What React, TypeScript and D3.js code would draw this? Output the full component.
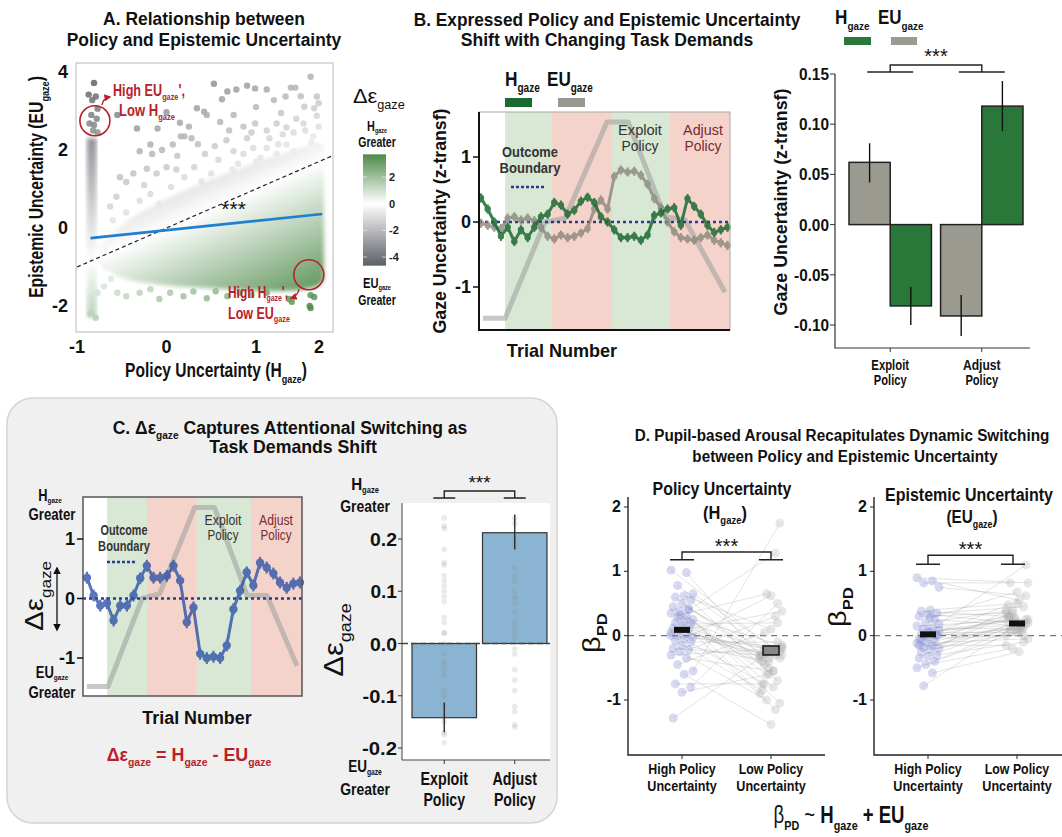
import React, { useEffect, useRef } from 'react';
import * as d3 from 'd3';

const NARROW = "'Liberation Sans', Arial, Helvetica, sans-serif";
const SANS = "'Liberation Sans', Arial, Helvetica, sans-serif";
const RED = '#b8212b';

// ---------- Panel A: scatter of H_gaze vs EU_gaze
const aTicksX = [-1, 0, 1, 2];
const aTicksY = [-2, 0, 2, 4];
const aUpperPts = [
  [0.53, 3.7], [0.68, 3.5], [0.78, 3.55], [0.9, 3.65], [0.99, 3.58], [1.12, 3.55], [1.39, 3.6], [1.44, 3.6], [1.61, 3.88],
  [1.2, 3.28], [1.33, 3.37], [1.5, 3.38], [1.68, 3.37], [1.54, 3.11], [1.65, 3.07], [1.68, 2.88], [0.34, 3.07], [0.42, 2.98],
  [0.45, 2.9], [0.6, 2.72], [0.75, 2.9], [0.86, 2.6], [0.99, 2.68], [1.12, 2.5], [1.23, 2.68], [1.34, 2.58], [1.42, 2.45],
  [1.53, 2.68], [1.64, 2.35], [0.0, 2.97], [-0.33, 2.55], [-0.55, 2.9], [-0.3, 1.97], [-0.18, 2.14], [-0.16, 1.9], [-0.05, 2.0],
  [0.07, 2.14], [0.16, 2.35], [0.2, 2.35], [0.28, 2.3], [0.35, 2.15], [0.43, 1.9], [0.54, 2.1], [0.67, 2.25], [0.75, 1.97],
  [0.86, 1.9], [0.97, 2.05], [1.05, 1.8], [1.12, 2.05], [1.23, 1.9], [1.34, 2.14], [1.42, 1.97], [1.5, 1.8], [1.61, 1.97],
  [1.68, 2.1], [-0.52, 1.3], [-0.45, 1.18], [-0.56, 0.8], [-0.37, 1.4], [-0.22, 1.52], [-0.11, 1.4], [0.0, 1.56], [0.11, 1.5],
  [0.2, 1.3], [0.31, 1.56], [0.39, 1.2], [0.5, 1.4], [0.61, 1.2], [0.74, 1.5], [-0.63, 0.55], [-0.6, 0.2], [-0.45, 0.4],
  [-0.3, 0.7], [-0.18, 0.87], [-0.08, 0.62], [-0.37, 0.05], [-0.22, 0.2], [0.25, 2.6], [0.62, 3.3], [1.0, 3.1], [1.28, 2.95],
  [1.7, 3.2], [0.9, 2.3], [1.15, 2.3], [0.58, 1.75], [0.8, 1.65], [1.0, 1.7], [0.12, 1.85], [-0.25, 1.1], [0.05, 1.05], [0.3, 0.95],
  [1.3, 2.4], [1.55, 2.5], [1.7, 2.6], [1.45, 2.8], [0.95, 2.45], [0.7, 2.5], [0.15, 2.7], [-0.1, 2.55], [1.62, 2.2], [1.25, 2.15],
];
const aColumnPts = [
  [-0.81, 3.72], [-0.87, 3.42], [-0.79, 3.37], [-0.83, 3.28], [-0.77, 3.06], [-0.84, 2.9], [-0.78, 2.8], [-0.86, 2.68],
  [-0.81, 2.64], [-0.82, 2.5], [-0.77, 2.45], [-0.79, -2.3], [-0.85, -2.2],
];
const aLowerPts = [
  [-0.7, -1.5], [-0.55, -1.66], [-0.45, -1.75], [-0.3, -1.66], [-0.18, -1.57], [-0.08, -1.82], [0.04, -1.66], [0.19, -1.75],
  [0.3, -1.63], [0.45, -1.8], [0.68, -1.75], [0.82, -1.66], [1.12, -1.66], [1.4, -1.89], [1.61, -1.72], [1.61, -2.05],
  [-0.77, -1.66], [1.37, -1.82], [1.65, -1.77], [1.6, -2.0], [0.95, -1.72], [0.55, -1.62], [-0.62, -1.3], [-0.68, -1.0],
];
const aColumnX = [-0.89, -0.78];
const aColumnY = [-2.3, 2.3];
const aCloudX = [-0.76, -0.6, -0.4, -0.2, 0, 0.3, 0.6, 0.9, 1.2, 1.5, 1.72, 1.76];
const aCloudLow = [-0.9, -1.2, -1.35, -1.42, -1.48, -1.52, -1.56, -1.6, -1.62, -1.6, -1.5, -1.3];
const aCloudHigh = [-0.5, -0.1, 0.25, 0.5, 0.75, 1.05, 1.35, 1.6, 1.85, 2.05, 2.2, 2.1];
const aRegX = [-0.85, 1.74];
const aRegY = [-0.26, 0.36];
const aIdentity = [-1, 1.86];
const aBarTicks = [2, 0, -2, -4];
const aBarDomain = [-4.65, 3.7];

// ---------- Panel B: time course of H_gaze / EU_gaze
const bPhaseEdges = [0, 10.4, 29.1, 53, 76.1, 100];
const bPhaseKinds = ['none', 'exploit', 'adjust', 'exploit', 'adjust'];
const bH = [0.37, 0.2, 0.0, -0.22, -0.08, -0.3, -0.12, -0.24, -0.08, 0.08, 0.12, 0.3, 0.26, 0.12, 0.18, 0.32, 0.38, 0.3, 0.08,
  0.0, -0.12, -0.24, -0.24, -0.22, -0.28, -0.2, 0.1, 0.14, 0.2, 0.22, -0.05, 0.36, 0.24, 0.12, -0.05, -0.16, -0.12, -0.08];
const bEU = [-0.02, -0.05, -0.08, -0.1, 0.06, 0.08, 0.03, 0.06, 0.02, -0.08, -0.22, -0.26, -0.2, -0.24, -0.22, -0.17, -0.1, 0.2,
  0.34, 0.2, 0.7, 0.8, 0.77, 0.78, 0.72, 0.58, 0.36, 0.22, 0.0, -0.15, -0.24, -0.26, -0.28, -0.24, -0.2, -0.28, -0.32, -0.36];
const bBoundT = [1.6, 10.4, 26.3, 34.3, 51, 59.4, 74.1, 82.1, 98];
const bBoundV = [-1.48, -1.48, 0, 0.06, 1.54, 1.54, 0.08, 0.03, -1.08];
const bTicks = [-1, 0, 1];

const bbCats = ['Exploit', 'Adjust'];
const bbSeries = ['EU', 'H'];
const bbEU = [0.062, -0.091];
const bbH = [-0.081, 0.118];
const bbEUerr = [[0.042, 0.081], [-0.111, -0.07]];
const bbHerr = [[-0.1, -0.062], [0.093, 0.143]];
const bbTicks = [-0.1, -0.05, 0, 0.05, 0.1, 0.15];

// ---------- Panel C: delta epsilon
const cPhaseEdges = [0, 11, 29.2, 52, 76.7, 100];
const cPhaseKinds = ['none', 'exploit', 'adjust', 'exploit', 'adjust'];
const cDelta = [0.35, 0.05, -0.12, -0.08, -0.37, -0.12, -0.12, 0.05, 0.34, 0.55, 0.35, 0.35, 0.38, 0.55, 0.3, -0.4, -0.15,
  -0.93, -1.0, -0.98, -1.0, -0.79, -0.18, 0.13, 0.44, 0.22, 0.6, 0.52, 0.42, 0.27, 0.18, 0.25, 0.27];
const cBoundT = [1.8, 11.4, 27, 35, 51, 60, 75, 84, 97.7];
const cBoundV = [-1.48, -1.48, 0, 0.08, 1.53, 1.53, 0.05, 0.05, -1.13];

const cbMeans = [-0.142, 0.212];
const cbErr = [[-0.17, -0.113], [0.18, 0.247]];
const cbTicks = [-0.2, -0.1, 0, 0.1, 0.2];
const cbExploitDots = [0.24, 0.225, 0.22, 0.18, 0.155, 0.15, 0.13, 0.12, 0.11, 0.1, 0.09, 0.08, 0.05, 0.04, 0.02, 0.02, 0.0,
  -0.02, -0.035, -0.04, -0.05, -0.06, -0.09, -0.1, -0.12, -0.14, -0.15, -0.17, -0.175, -0.19];
const cbAdjustDots = [0.24, 0.23, 0.2, 0.19, 0.145, 0.13, 0.12, 0.1, 0.09, 0.085, 0.075, 0.06, 0.04, 0.03, 0.02, 0.01, -0.01,
  -0.02, -0.05, -0.07, -0.09, -0.12, -0.13, -0.155, -0.16];

// ---------- Panel D: pupil betas, paired [high, low]
const dCats = ['High', 'Low'];
const dTicks = [-1, 0, 1, 2];
const dPolicyPairs = [[1.02, -0.3], [0.98, -0.55], [0.78, -0.2], [0.65, -0.25], [0.62, 0.1], [0.6, -0.4], [0.55, -0.7],
  [0.5, -0.35], [0.45, -0.9], [0.42, -0.3], [0.38, -0.6], [0.35, -0.15], [0.3, -0.8], [0.28, -0.45], [0.25, -1.05],
  [0.22, -0.25], [0.2, -0.3], [0.18, 0.2], [0.15, -0.5], [0.12, -0.32], [0.1, -1.15], [0.08, -0.28], [0.05, 0.38],
  [0.03, -0.22], [0.0, -0.75], [-0.02, -0.35], [-0.05, 0.62], [-0.08, -0.85], [-0.1, -0.1], [-0.15, -0.4], [-0.2, -0.3],
  [-0.22, 0.3], [-0.25, -1.0], [-0.3, -0.2], [-0.35, -0.55], [-0.45, 0.05], [-0.55, 1.75], [-0.6, -1.38], [-0.75, -0.75],
  [-0.8, 0.5], [-0.88, -0.6], [-1.28, -0.35], [0.4, 1.28], [0.32, 0.65], [0.0, -0.18]];
const dEpistemicPairs = [[0.9, 0.82], [0.85, 0.55], [0.82, 0.82], [0.75, 0.62], [0.4, 0.5], [0.38, 0.3], [0.35, 0.45],
  [0.33, 0.2], [0.3, 0.35], [0.25, 0.15], [0.2, 0.4], [0.15, 0.25], [0.12, 0.1], [0.1, 0.3], [0.08, 0.18], [0.05, 0.05],
  [0.03, 0.22], [0.0, 0.12], [-0.02, 0.28], [-0.05, 0.0], [-0.08, 0.15], [-0.1, 0.35], [-0.12, -0.05], [-0.15, 0.2],
  [-0.18, 0.1], [-0.2, 0.25], [-0.22, 0.05], [-0.25, 0.3], [-0.3, -0.1], [-0.32, 0.15], [-0.35, 0.4], [-0.4, 0.08],
  [-0.45, -0.2], [-0.5, 0.2], [-0.58, -0.25], [-0.78, 0.1], [0.18, 1.1], [0.28, 0.68], [-0.05, 0.48], [0.02, 0.0],
  [0.06, 0.25], [-0.15, -0.15]];
const dPolicyMeans = [0.09, -0.23];
const dEpistemicMeans = [0.02, 0.19];

type Part = [string, number?, string?];

// text with subscripts; o.w squeezes the string horizontally to the width seen in the figure
function rich(p: any, x: number, y: number, parts: Part[], size: number, o: any = {}) {
  const g = p.append('g').attr('transform', `translate(${x},${y})`);
  const t = g.append('text')
    .attr('x', 0).attr('y', 0)
    .attr('font-size', size)
    .attr('font-family', o.family || NARROW)
    .attr('font-weight', o.weight || 'bold')
    .attr('fill', o.fill || '#111')
    .attr('text-anchor', o.anchor || 'middle');
  const shift = size * (o.shift || 0.3);
  let low = false;
  parts.forEach(([s, sub, w]) => {
    const ts = t.append('tspan').text(s);
    if (w === 'r') ts.attr('font-weight', 'normal');
    if (w === 'b') ts.attr('font-weight', 'bold');
    if (sub) {
      ts.attr('font-size', size * (o.subSize || 0.58));
      if (!low) { ts.attr('dy', shift); low = true; }
    } else if (low) { ts.attr('dy', -shift); low = false; }
  });
  if (o.w) {
    const len = (t.node() as SVGTextElement).getBBox().width;
    if (len > 0) t.attr('transform', `scale(${o.w / len},1)`);
  }
  return t;
}

function vrich(p: any, x: number, y: number, parts: Part[], size: number, o: any = {}) {
  const g = p.append('g').attr('transform', `translate(${x},${y}) rotate(-90)`);
  return rich(g, 0, 0, parts, size, o);
}

function tick(p: any, x: number, y: number, label: string, size: number, anchor = 'end', w = 0) {
  return rich(p, x, y, [[label]], size, { anchor, w });
}

function phases(g: any, x: any, top: number, bottom: number, edges: number[], kinds: string[]) {
  kinds.forEach((k, i) => {
    if (k === 'none') return;
    g.append('rect')
      .attr('x', x(edges[i])).attr('width', x(edges[i + 1]) - x(edges[i]))
      .attr('y', top).attr('height', bottom - top)
      .attr('fill', k === 'exploit' ? '#d8e8d4' : '#f4d4ca');
  });
}

function boundary(g: any, x: any, y: any, ts: number[], vs: number[]) {
  g.append('path')
    .datum(vs)
    .attr('d', d3.line<number>().x((_, i) => x(ts[i])).y((d) => y(d)))
    .attr('fill', 'none')
    .attr('stroke', '#9a9a9a')
    .attr('stroke-opacity', 0.55)
    .attr('stroke-width', 5)
    .attr('stroke-linejoin', 'round');
}

function series(g: any, x: any, y: any, ts: number[], vals: number[], err: number, color: string, op: number, r: number) {
  const s = g.append('g').attr('opacity', op);
  s.append('path')
    .datum(vals)
    .attr('d', d3.line<number>().x((_, i) => x(ts[i])).y((d) => y(d)))
    .attr('fill', 'none').attr('stroke', color).attr('stroke-width', 3);
  vals.forEach((v, i) => {
    s.append('line').attr('x1', x(ts[i])).attr('x2', x(ts[i]))
      .attr('y1', y(v - err)).attr('y2', y(v + err))
      .attr('stroke', color).attr('stroke-width', 2.2);
    s.append('circle').attr('cx', x(ts[i])).attr('cy', y(v)).attr('r', r).attr('fill', color);
  });
}

function bracket(g: any, xa: number, xb: number, half: number, yBar: number, yTop: number, starY: number, size = 20) {
  const path = `M${xa - half},${yBar}H${xa + half}M${xa},${yBar}V${yTop}H${xb}V${yBar}M${xb - half},${yBar}H${xb + half}`;
  g.append('path').attr('d', path).attr('fill', 'none').attr('stroke', '#222').attr('stroke-width', 1.4);
  g.append('text').attr('x', (xa + xb) / 2).attr('y', starY).attr('text-anchor', 'middle')
    .attr('font-family', SANS).attr('font-size', size).attr('fill', '#111').text('***');
}

function App() {
  const ref = useRef<SVGSVGElement>(null);

  useEffect(() => {
    const svg = d3.select(ref.current);
    svg.selectAll('*').remove();
    const defs = svg.append('defs');

    // ================= A =================
    const A = svg.append('g');
    const xA = d3.scaleLinear().domain([-1, 1]).range([77, 256]);
    const yA = d3.scaleLinear().domain([-2, 4]).range([306, 72]);
    const dColor = d3.scaleLinear<string>().domain([aBarDomain[0], 0, aBarDomain[1]]).range(['#5c5f66', '#ffffff', '#4e8a49']);
    const fA = { l: 76, t: 63, r: 333, b: 332 };

    rich(A, 204, 25, [['A. Relationship between']], 17.5, { w: 202 });
    rich(A, 204, 46, [['Policy and Epistemic Uncertainty']], 17.5, { w: 275 });

    defs.append('clipPath').attr('id', 'clipA').append('rect')
      .attr('x', fA.l).attr('y', fA.t).attr('width', fA.r - fA.l).attr('height', fA.b - fA.t);
    defs.append('filter').attr('id', 'blurA').attr('x', '-10%').attr('y', '-10%').attr('width', '120%').attr('height', '120%')
      .append('feGaussianBlur').attr('stdDeviation', 2.2);

    // gradient that follows delta-epsilon = x - y in pixel space
    const sx = xA(1) - xA(0), sy = yA(0) - yA(1);
    const gx = 1 / sx, gy = 1 / sy, g2 = gx * gx + gy * gy;
    const P = (v: number) => [xA(0) + (v * gx) / g2, yA(0) + (v * gy) / g2];
    const gradA = defs.append('linearGradient').attr('id', 'gradA').attr('gradientUnits', 'userSpaceOnUse')
      .attr('x1', P(aBarDomain[0])[0]).attr('y1', P(aBarDomain[0])[1])
      .attr('x2', P(aBarDomain[1])[0]).attr('y2', P(aBarDomain[1])[1]);
    [aBarDomain[0], -2, 0, 2, aBarDomain[1]].forEach((v) => {
      gradA.append('stop').attr('offset', (v - aBarDomain[0]) / (aBarDomain[1] - aBarDomain[0])).attr('stop-color', dColor(v));
    });

    A.append('rect').attr('x', fA.l).attr('y', fA.t).attr('width', fA.r - fA.l).attr('height', fA.b - fA.t).attr('fill', '#fff');
    const Ac = A.append('g').attr('clip-path', 'url(#clipA)');
    const cloud = d3.area<number>()
      .x((_, i) => xA(aCloudX[i]))
      .y0((_, i) => yA(aCloudLow[i]))
      .y1((_, i) => yA(aCloudHigh[i]))
      .curve(d3.curveBasis);
    Ac.append('path').datum(aCloudX).attr('d', cloud).attr('fill', 'url(#gradA)').attr('filter', 'url(#blurA)');
    Ac.append('rect')
      .attr('x', xA(aColumnX[0])).attr('width', xA(aColumnX[1]) - xA(aColumnX[0]))
      .attr('y', yA(aColumnY[1])).attr('height', yA(aColumnY[0]) - yA(aColumnY[1]))
      .attr('fill', 'url(#gradA)').attr('filter', 'url(#blurA)');
    [...aUpperPts, ...aColumnPts, ...aLowerPts].forEach(([x, y]) => {
      Ac.append('circle').attr('cx', xA(x)).attr('cy', yA(y)).attr('r', 3.2)
        .attr('fill', dColor(x - y)).attr('opacity', 0.85);
    });
    Ac.append('line')
      .attr('x1', xA(aIdentity[0])).attr('y1', yA(aIdentity[0]))
      .attr('x2', xA(aIdentity[1])).attr('y2', yA(aIdentity[1]))
      .attr('stroke', '#222').attr('stroke-width', 1.2).attr('stroke-dasharray', '4,3');
    Ac.append('line')
      .attr('x1', xA(aRegX[0])).attr('y1', yA(aRegY[0]))
      .attr('x2', xA(aRegX[1])).attr('y2', yA(aRegY[1]))
      .attr('stroke', '#1f7fd0').attr('stroke-width', 2.6);
    A.append('text').attr('x', xA(0.75)).attr('y', yA(0.3)).attr('text-anchor', 'middle')
      .attr('font-family', SANS).attr('font-size', 21).attr('fill', '#111').text('***');
    A.append('rect').attr('x', fA.l).attr('y', fA.t).attr('width', fA.r - fA.l).attr('height', fA.b - fA.t)
      .attr('fill', 'none').attr('stroke', '#c4c4c4').attr('stroke-width', 1.2);

    // red annotations
    defs.append('marker').attr('id', 'arrR').attr('viewBox', '0 0 10 10').attr('refX', 8).attr('refY', 5)
      .attr('markerWidth', 5).attr('markerHeight', 5).attr('orient', 'auto-start-reverse')
      .append('path').attr('d', 'M0,0L10,5L0,10z').attr('fill', RED);
    A.append('circle').attr('cx', xA(-0.8)).attr('cy', yA(2.75)).attr('r', 15)
      .attr('fill', 'none').attr('stroke', RED).attr('stroke-width', 1.6);
    A.append('circle').attr('cx', xA(1.59)).attr('cy', yA(-1.2)).attr('r', 15)
      .attr('fill', 'none').attr('stroke', RED).attr('stroke-width', 1.6);
    A.append('path').attr('d', 'M102,105Q103,98 110,97').attr('fill', 'none').attr('stroke', RED)
      .attr('stroke-width', 1.4).attr('marker-end', 'url(#arrR)');
    A.append('path').attr('d', 'M299,289Q298,296 291,298').attr('fill', 'none').attr('stroke', RED)
      .attr('stroke-width', 1.4).attr('marker-end', 'url(#arrR)');
    rich(A, 113, 96, [['High EU'], ['gaze', 1], ["',"]], 16, { anchor: 'start', fill: RED, w: 72, shift: 0.22 });
    rich(A, 119, 116, [['Low H'], ['gaze', 1]], 16, { anchor: 'start', fill: RED, w: 56, shift: 0.22 });
    rich(A, 228, 298, [['High H'], ['gaze', 1], ["',"]], 16, { anchor: 'start', fill: RED, w: 60, shift: 0.2 });
    rich(A, 228, 319, [['Low EU'], ['gaze', 1]], 16, { anchor: 'start', fill: RED, w: 62, shift: 0.2 });

    aTicksX.forEach((v) => tick(A, Math.min(xA(v), fA.r - 14), fA.b + 21, String(v), 18, 'middle'));
    aTicksY.forEach((v) => tick(A, fA.l - 8, yA(v) + 6, String(v), 18));
    rich(A, 216, 377, [['Policy Uncertainty (H'], ['gaze', 1], [')']], 19.5, { w: 182 });
    vrich(A, 43, 187, [['Epistemic Uncertainty (EU'], ['gaze', 1], [')']], 19.5, { w: 222 });

    // colour bar
    const cbY = d3.scaleLinear().domain([-4, 2]).range([257, 177]);
    const gradBar = defs.append('linearGradient').attr('id', 'gradBar').attr('x1', 0).attr('y1', 0).attr('x2', 0).attr('y2', 1);
    [aBarDomain[1], 2, 0, -2, aBarDomain[0]].forEach((v) => {
      gradBar.append('stop').attr('offset', (aBarDomain[1] - v) / (aBarDomain[1] - aBarDomain[0])).attr('stop-color', dColor(v));
    });
    A.append('rect').attr('x', 363).attr('width', 23).attr('y', cbY(aBarDomain[1]))
      .attr('height', cbY(aBarDomain[0]) - cbY(aBarDomain[1])).attr('fill', 'url(#gradBar)');
    aBarTicks.forEach((v) => {
      A.append('line').attr('x1', 363).attr('x2', 367).attr('y1', cbY(v)).attr('y2', cbY(v)).attr('stroke', '#fff').attr('stroke-opacity', 0.6);
      A.append('line').attr('x1', 382).attr('x2', 386).attr('y1', cbY(v)).attr('y2', cbY(v)).attr('stroke', '#fff').attr('stroke-opacity', 0.6);
      rich(A, 389, cbY(v) + 4, [[String(v)]], 11, { anchor: 'start', fill: '#222' });
    });
    rich(A, 353, 103, [['Δε', 0, 'r'], ['gaze', 1, 'r']], 21, { anchor: 'start', weight: 'normal', family: SANS, w: 52 });
    rich(A, 377, 131, [['H'], ['gaze', 1]], 14, { w: 20, subSize: 0.5, shift: 0.15 });
    rich(A, 377, 147, [['Greater']], 14, { w: 38 });
    rich(A, 377, 288, [['EU'], ['gaze', 1]], 14, { w: 28, subSize: 0.5, shift: 0.15 });
    rich(A, 377, 305, [['Greater']], 14, { w: 38 });

    // ================= B (time course) =================
    const B = svg.append('g');
    rich(B, 607, 26, [['B. Expressed Policy and Epistemic Uncertainty']], 17.5, { w: 387 });
    rich(B, 607, 46, [['Shift with Changing Task Demands']], 17.5, { w: 293 });
    const xB = d3.scaleLinear().domain([0, 100]).range([479, 730]);
    const yB = d3.scaleLinear().domain([-1, 1]).range([287, 157]);
    const fB = { t: 112, b: 330 };
    const bTs = d3.range(bH.length).map((i) => 0.8 + i * 2.654);
    B.append('rect').attr('x', xB(0)).attr('y', fB.t).attr('width', xB(100) - xB(0)).attr('height', fB.b - fB.t).attr('fill', '#fff');
    phases(B, xB, fB.t, fB.b, bPhaseEdges, bPhaseKinds);
    boundary(B, xB, yB, bBoundT, bBoundV);
    B.append('line').attr('x1', xB(0)).attr('x2', xB(100)).attr('y1', yB(0)).attr('y2', yB(0))
      .attr('stroke', '#2b3a96').attr('stroke-width', 2.5).attr('stroke-dasharray', '3,3');
    series(B, xB, yB, bTs, bEU, 0.07, '#8a877c', 0.8, 3.2);
    series(B, xB, yB, bTs, bH, 0.07, '#1b6a30', 0.85, 3.2);
    B.append('rect').attr('x', xB(0)).attr('y', fB.t).attr('width', xB(100) - xB(0)).attr('height', fB.b - fB.t)
      .attr('fill', 'none').attr('stroke', '#aaa').attr('stroke-width', 1);
    B.append('path').attr('d', `M${xB(0)},${fB.t}V${fB.b}H${xB(100)}`).attr('fill', 'none').attr('stroke', '#111').attr('stroke-width', 2);
    bTicks.forEach((v) => {
      B.append('line').attr('x1', xB(0) - 6).attr('x2', xB(0)).attr('y1', yB(v)).attr('y2', yB(v)).attr('stroke', '#111').attr('stroke-width', 1.5);
      tick(B, xB(0) - 8, yB(v) + 6, String(v), 18);
    });
    rich(B, 530, 157, [['Outcome']], 14, { fill: '#333', w: 56 });
    rich(B, 530, 173, [['Boundary']], 14, { fill: '#333', w: 61 });
    B.append('line').attr('x1', 511).attr('x2', 545).attr('y1', 187).attr('y2', 187)
      .attr('stroke', '#2b3a96').attr('stroke-width', 2.5).attr('stroke-dasharray', '3,2');
    rich(B, 640, 135, [['Exploit']], 14, { fill: '#333', weight: 'normal', family: SANS, w: 44 });
    rich(B, 640, 151, [['Policy']], 14, { fill: '#333', weight: 'normal', family: SANS, w: 37 });
    rich(B, 703, 135, [['Adjust']], 14, { fill: '#7a2833', weight: 'normal', family: SANS, w: 40 });
    rich(B, 703, 151, [['Policy']], 14, { fill: '#7a2833', weight: 'normal', family: SANS, w: 37 });
    rich(B, 562, 357, [['Trial Number']], 19, { w: 111 });
    vrich(B, 446, 221, [['Gaze Uncertainty (z-transf)']], 18, { w: 225 });
    rich(B, 505, 86, [['H'], ['gaze', 1]], 21, { anchor: 'start', w: 35 });
    rich(B, 547, 86, [['EU'], ['gaze', 1]], 21, { anchor: 'start', w: 46 });
    B.append('rect').attr('x', 505).attr('y', 98).attr('width', 27).attr('height', 9).attr('fill', '#1b6a30');
    B.append('rect').attr('x', 558).attr('y', 98).attr('width', 27).attr('height', 9).attr('fill', '#989890');

    // ================= B (bars) =================
    const BB = svg.append('g');
    const yBb = d3.scaleLinear().domain([-0.1, 0.15]).range([325, 74]);
    const xBb = d3.scaleBand().domain(bbCats).range([849, 1023]).paddingInner(0.1).paddingOuter(0);
    const xBs = d3.scaleBand().domain(bbSeries).range([0, xBb.bandwidth()]);
    const bbVals: any = { EU: bbEU, H: bbH };
    const bbErrs: any = { EU: bbEUerr, H: bbHerr };
    const bbFill: any = { EU: '#9a9a91', H: '#2a773a' };
    bbCats.forEach((c, ci) => {
      bbSeries.forEach((s) => {
        const v = bbVals[s][ci];
        const x0 = (xBb(c) as number) + (xBs(s) as number);
        BB.append('rect').attr('x', x0).attr('width', xBs.bandwidth())
          .attr('y', yBb(Math.max(0, v))).attr('height', Math.abs(yBb(v) - yBb(0)))
          .attr('fill', bbFill[s]).attr('stroke', '#222').attr('stroke-width', 1.5);
        const [lo, hi] = bbErrs[s][ci];
        BB.append('line').attr('x1', x0 + xBs.bandwidth() / 2).attr('x2', x0 + xBs.bandwidth() / 2)
          .attr('y1', yBb(lo)).attr('y2', yBb(hi)).attr('stroke', '#111').attr('stroke-width', 1.4);
      });
    });
    BB.append('path').attr('d', `M835,74V348H1030`).attr('fill', 'none').attr('stroke', '#333').attr('stroke-width', 1.2);
    bbTicks.forEach((v) => {
      BB.append('line').attr('x1', 830).attr('x2', 835).attr('y1', yBb(v)).attr('y2', yBb(v)).attr('stroke', '#333');
      tick(BB, 829, yBb(v) + 6, v.toFixed(2), 17, 'end', v < 0 ? 35 : 30);
    });
    bbCats.forEach((c) => {
      const cx = (xBb(c) as number) + xBb.bandwidth() / 2;
      BB.append('line').attr('x1', cx).attr('x2', cx).attr('y1', 348).attr('y2', 352).attr('stroke', '#333');
      rich(BB, cx, 370, [[c]], 14, { w: 38 });
      rich(BB, cx, 385, [['Policy']], 14, { w: 33 });
    });
    const bxa = (xBb('Exploit') as number) + xBb.bandwidth() / 2;
    const bxb = (xBb('Adjust') as number) + xBb.bandwidth() / 2;
    bracket(BB, bxa, bxb, 23, yBb(0.152), yBb(0.159), 63);
    vrich(BB, 787, 202, [['Gaze Uncertainty (z-transf)']], 18, { w: 227 });
    rich(BB, 835, 24, [['H'], ['gaze', 1]], 20, { anchor: 'start', w: 35 });
    rich(BB, 878, 24, [['EU'], ['gaze', 1]], 20, { anchor: 'start', w: 46 });
    BB.append('rect').attr('x', 844).attr('y', 37).attr('width', 27).attr('height', 8).attr('fill', '#2a773a');
    BB.append('rect').attr('x', 891).attr('y', 37).attr('width', 26).attr('height', 8).attr('fill', '#9a9a91');

    // ================= C =================
    const C = svg.append('g');
    C.append('rect').attr('x', 7).attr('y', 398).attr('width', 550).attr('height', 425).attr('rx', 26)
      .attr('fill', '#f0f0f0').attr('stroke', '#d4d4d4').attr('stroke-width', 1.5);
    rich(C, 290, 434, [['C. Δε'], ['gaze', 1], [' Captures Attentional Switching as']], 17.5, { w: 355 });
    rich(C, 293, 453, [['Task Demands Shift']], 17.5, { w: 168 });

    const xC = d3.scaleLinear().domain([0, 100]).range([83, 302]);
    const yC = d3.scaleLinear().domain([-1, 1]).range([658, 539]);
    const fC = { t: 497, b: 696 };
    const cTs = d3.range(cDelta.length).map((i) => 1.8 + i * 3.04);
    C.append('rect').attr('x', xC(0)).attr('y', fC.t).attr('width', xC(100) - xC(0)).attr('height', fC.b - fC.t).attr('fill', '#fff');
    phases(C, xC, fC.t, fC.b, cPhaseEdges, cPhaseKinds);
    boundary(C, xC, yC, cBoundT, cBoundV);
    C.append('line').attr('x1', xC(0)).attr('x2', xC(100)).attr('y1', yC(0)).attr('y2', yC(0))
      .attr('stroke', '#2b3a96').attr('stroke-width', 2.5).attr('stroke-dasharray', '3,3');
    series(C, xC, yC, cTs, cDelta, 0.1, '#2c4fa6', 0.78, 4.2);
    C.append('rect').attr('x', xC(0)).attr('y', fC.t).attr('width', xC(100) - xC(0)).attr('height', fC.b - fC.t)
      .attr('fill', 'none').attr('stroke', '#555').attr('stroke-width', 1.5);
    bTicks.forEach((v) => {
      C.append('line').attr('x1', xC(0) - 6).attr('x2', xC(0)).attr('y1', yC(v)).attr('y2', yC(v)).attr('stroke', '#111').attr('stroke-width', 1.5);
      tick(C, xC(0) - 8, yC(v) + 6, String(v), 18);
    });
    rich(C, 124, 535, [['Outcome']], 14, { fill: '#333', w: 47 });
    rich(C, 124, 551, [['Boundary']], 14, { fill: '#333', w: 52 });
    C.append('line').attr('x1', 107).attr('x2', 135).attr('y1', 562).attr('y2', 562)
      .attr('stroke', '#2b3a96').attr('stroke-width', 2.5).attr('stroke-dasharray', '3,2');
    rich(C, 223, 525, [['Exploit']], 14, { fill: '#333', weight: 'normal', family: SANS, w: 37 });
    rich(C, 223, 540, [['Policy']], 14, { fill: '#333', weight: 'normal', family: SANS, w: 31 });
    rich(C, 276, 525, [['Adjust']], 14, { fill: '#7a2833', weight: 'normal', family: SANS, w: 34 });
    rich(C, 276, 540, [['Policy']], 14, { fill: '#7a2833', weight: 'normal', family: SANS, w: 31 });
    rich(C, 197, 724, [['Trial Number']], 19, { w: 110 });
    rich(C, 50, 501, [['H'], ['gaze', 1]], 16, { w: 24, subSize: 0.5, shift: 0.15 });
    rich(C, 52, 520, [['Greater']], 16, { w: 47 });
    rich(C, 52, 678, [['EU'], ['gaze', 1]], 16, { w: 33, subSize: 0.5, shift: 0.15 });
    rich(C, 52, 698, [['Greater']], 16, { w: 47 });
    vrich(C, 43, 596, [['Δε', 0, 'r'], ['gaze', 1, 'r']], 25, { weight: 'normal', family: SANS, w: 70 });
    defs.append('marker').attr('id', 'arrK').attr('viewBox', '0 0 10 10').attr('refX', 8).attr('refY', 5)
      .attr('markerWidth', 6).attr('markerHeight', 6).attr('orient', 'auto-start-reverse')
      .append('path').attr('d', 'M0,0L10,5L0,10z').attr('fill', '#111');
    C.append('line').attr('x1', 57).attr('x2', 57).attr('y1', 568).attr('y2', 630)
      .attr('stroke', '#111').attr('stroke-width', 1.3)
      .attr('marker-start', 'url(#arrK)').attr('marker-end', 'url(#arrK)');
    rich(C, 189, 761, [['Δε'], ['gaze', 1], [' = H'], ['gaze', 1], [' - EU'], ['gaze', 1]], 18, { fill: RED, w: 165 });

    // C bars
    const yCb = d3.scaleLinear().domain([-0.2, 0.2]).range([748, 539]);
    const xCb = d3.scaleBand().domain(bbCats).range([412, 547]).paddingInner(0.085).paddingOuter(0);
    C.append('rect').attr('x', 402).attr('y', 503).attr('width', 148).attr('height', 257).attr('fill', '#fff');
    const cDots = [cbExploitDots, cbAdjustDots];
    bbCats.forEach((c, ci) => {
      const x0 = xCb(c) as number;
      const cx = x0 + xCb.bandwidth() / 2;
      const v = cbMeans[ci];
      C.append('rect').attr('x', x0).attr('width', xCb.bandwidth())
        .attr('y', yCb(Math.max(0, v))).attr('height', Math.abs(yCb(v) - yCb(0)))
        .attr('fill', '#8ab4d1').attr('stroke', '#333').attr('stroke-width', 1.2);
      cDots[ci].forEach((d) => {
        C.append('circle').attr('cx', cx).attr('cy', yCb(d)).attr('r', 2.8).attr('fill', '#888').attr('opacity', 0.18);
      });
      C.append('line').attr('x1', cx).attr('x2', cx).attr('y1', yCb(cbErr[ci][0])).attr('y2', yCb(cbErr[ci][1]))
        .attr('stroke', '#222').attr('stroke-width', 1.3);
      C.append('line').attr('x1', cx).attr('x2', cx).attr('y1', 760).attr('y2', 764).attr('stroke', '#333');
      rich(C, cx, 785, [[c]], 19, { w: ci === 0 ? 48 : 45 });
      rich(C, cx, 806, [['Policy']], 19, { w: 42 });
    });
    C.append('line').attr('x1', 402).attr('x2', 550).attr('y1', yCb(0)).attr('y2', yCb(0))
      .attr('stroke', '#444').attr('stroke-width', 1.4).attr('stroke-dasharray', '6,3');
    C.append('path').attr('d', 'M402,503V760H550').attr('fill', 'none').attr('stroke', '#444').attr('stroke-width', 1);
    cbTicks.forEach((v) => {
      C.append('line').attr('x1', 398).attr('x2', 402).attr('y1', yCb(v)).attr('y2', yCb(v)).attr('stroke', '#333');
      tick(C, 397, yCb(v) + 7, v.toFixed(1), 19, 'end', v < 0 ? 35 : 27);
    });
    const cxa = (xCb('Exploit') as number) + xCb.bandwidth() / 2;
    const cxb = (xCb('Adjust') as number) + xCb.bandwidth() / 2;
    bracket(C, cxa, cxb, 11, 498, 491, 489, 19);
    rich(C, 365, 490, [['H'], ['gaze', 1]], 17, { w: 28, subSize: 0.5, shift: 0.2 });
    rich(C, 365, 512, [['Greater']], 17, { w: 50 });
    rich(C, 365, 772, [['EU'], ['gaze', 1]], 17, { w: 34, subSize: 0.5, shift: 0.15 });
    rich(C, 365, 795, [['Greater']], 17, { w: 50 });
    vrich(C, 343, 640, [['Δε', 0, 'r'], ['gaze', 1, 'r']], 27, { weight: 'normal', family: SANS, w: 74 });

    // ================= D =================
    const D = svg.append('g');
    rich(D, 842, 441, [['D. Pupil-based Arousal Recapitulates Dynamic Switching']], 17, { w: 415 });
    rich(D, 845, 462, [['between Policy and Epistemic Uncertainty']], 17, { w: 306 });
    const yD = d3.scaleLinear().domain([-1, 2]).range([700, 507]);
    const jit = (i: number) => (((i * 7) % 11) - 5) * 2.2;

    const drawD = (axisX: number, xEnd: number, cats: [number, number], pairs: number[][], means: number[], lowOutline: boolean) => {
      const xD = d3.scalePoint().domain(dCats).range(cats);
      const g = D.append('g');
      g.append('line').attr('x1', axisX).attr('x2', xEnd).attr('y1', yD(0)).attr('y2', yD(0))
        .attr('stroke', '#777').attr('stroke-width', 1.3).attr('stroke-dasharray', '6,5');
      pairs.forEach(([h, l], i) => {
        g.append('line').attr('x1', (xD('High') as number) + jit(i)).attr('y1', yD(h))
          .attr('x2', (xD('Low') as number) + jit(i + 3)).attr('y2', yD(l))
          .attr('stroke', '#8a8a8a').attr('stroke-opacity', 0.3).attr('stroke-width', 0.8);
      });
      pairs.forEach(([h, l], i) => {
        g.append('circle').attr('cx', (xD('High') as number) + jit(i)).attr('cy', yD(h)).attr('r', 4.5)
          .attr('fill', '#7880cc').attr('opacity', 0.3);
        g.append('circle').attr('cx', (xD('Low') as number) + jit(i + 3)).attr('cy', yD(l)).attr('r', 4.5)
          .attr('fill', '#a8a8a8').attr('opacity', 0.28);
      });
      dCats.forEach((c, ci) => {
        const outlined = lowOutline && ci === 1;
        g.append('rect').attr('x', (xD(c) as number) - 8).attr('width', 16)
          .attr('y', yD(means[ci]) - (outlined ? 4.5 : 3)).attr('height', outlined ? 9 : 6)
          .attr('fill', outlined ? '#888' : '#111').attr('stroke', '#111').attr('stroke-width', outlined ? 1.5 : 0);
        g.append('line').attr('x1', xD(c)).attr('x2', xD(c)).attr('y1', 755).attr('y2', 759).attr('stroke', '#222');
        rich(g, xD(c) as number, 774, [[c === 'High' ? 'High Policy' : 'Low Policy']], 15, { w: c === 'High' ? 68 : 65 });
        rich(g, xD(c) as number, 791, [['Uncertainty']], 15, { w: 70 });
      });
      g.append('path').attr('d', `M${axisX},497V755H${xEnd}`).attr('fill', 'none').attr('stroke', '#222').attr('stroke-width', 1.4);
      dTicks.forEach((v) => {
        g.append('line').attr('x1', axisX - 4).attr('x2', axisX).attr('y1', yD(v)).attr('y2', yD(v)).attr('stroke', '#222');
        tick(g, axisX - 7, yD(v) + 5, String(v), 16);
      });
      return xD;
    };
    const xDL = drawD(628, 825, [682, 771], dPolicyPairs, dPolicyMeans, true);
    bracket(D, xDL('High') as number, xDL('Low') as number, 12, yD(1.18), yD(1.3), 553);
    rich(D, 722, 495, [['Policy Uncertainty']], 18, { w: 139 });
    rich(D, 725, 519, [['(H'], ['gaze', 1], [')']], 18, { w: 44 });
    vrich(D, 600, 633, [['β', 0, 'r'], ['PD', 1, 'b']], 24, { weight: 'normal', family: SANS, w: 40 });

    const xDR = drawD(874, 1062, [928, 1017], dEpistemicPairs, dEpistemicMeans, false);
    bracket(D, xDR('High') as number, (xDR('Low') as number) - 4, 12, yD(1.11), yD(1.25), 556);
    rich(D, 969, 501, [['Epistemic Uncertainty']], 18, { w: 168 });
    rich(D, 972, 523, [['(EU'], ['gaze', 1], [')']], 18, { w: 51 });
    vrich(D, 846, 607, [['β', 0, 'r'], ['PD', 1, 'b']], 24, { weight: 'normal', family: SANS, w: 40 });

    rich(D, 851, 823, [['β', 0, 'r'], ['PD', 1, 'b'], [' ~ ', 0, 'r'], ['H'], ['gaze', 1], [' + EU'], ['gaze', 1]], 23, { w: 155 });
  }, []);

  return (
    <svg ref={ref} width={1062} height={837} style={{ position: 'absolute', left: 0, top: 0, background: '#fff' }} />
  );
}

export default App;
